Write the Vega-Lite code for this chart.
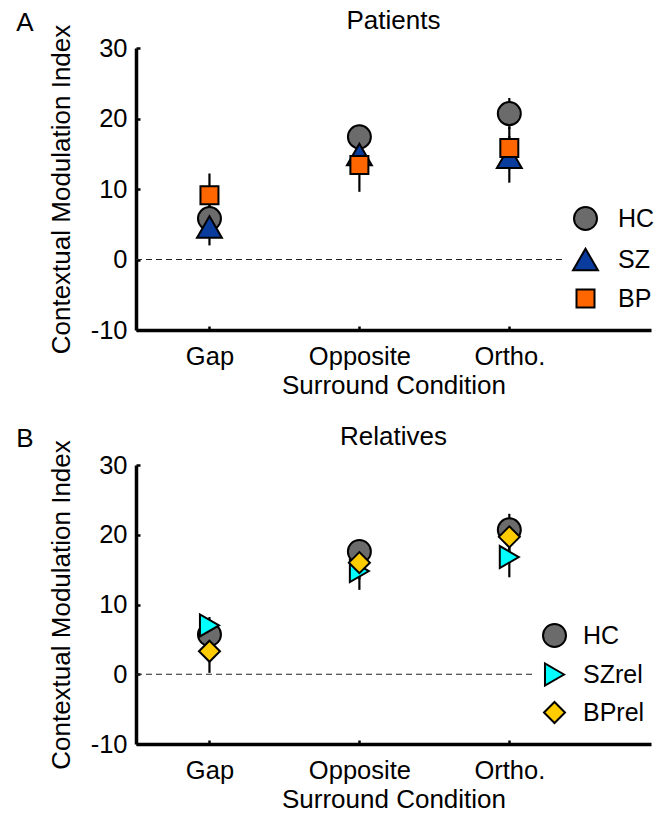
{
  "$schema": "https://vega.github.io/schema/vega-lite/v6.json",
  "padding": {"left": 16, "top": 8, "right": 0, "bottom": 0},
  "background": "white",
  "config": {
    "view": {"stroke": null},
    "font": "Liberation Sans",
    "axis": {"grid": false, "domainColor": "black", "domainWidth": 3.5, "tickColor": "black", "tickWidth": 2.5, "tickSize": -4, "labelFontSize": 25.5, "labelColor": "black", "titleFontSize": 26, "titleColor": "black", "titleFontWeight": "normal", "labelFont": "Liberation Sans", "titleFont": "Liberation Sans"},
    "title": {"fontSize": 26, "fontWeight": "normal", "font": "Liberation Sans", "color": "black"},
    "legend": {"labelFontSize": 25, "labelFont": "Liberation Sans", "labelColor": "black", "symbolStrokeColor": "black", "symbolStrokeWidth": 2, "rowPadding": 10, "labelOffset": 19, "padding": 0, "symbolOpacity": 1}
  },
  "datasets": {
    "patients": [
      {"cond": "Gap", "pos": 1, "group": "HC", "mean": 5.8, "lo": 3.5, "hi": 8.1},
      {"cond": "Gap", "pos": 1, "group": "SZ", "mean": 4.6, "lo": 2.0, "hi": 7.0},
      {"cond": "Gap", "pos": 1, "group": "BP", "mean": 9.1, "lo": 6.0, "hi": 12.2},
      {"cond": "Opposite", "pos": 2, "group": "HC", "mean": 17.4, "lo": 15.7, "hi": 19.1},
      {"cond": "Opposite", "pos": 2, "group": "SZ", "mean": 14.9, "lo": 12.4, "hi": 17.4},
      {"cond": "Opposite", "pos": 2, "group": "BP", "mean": 13.4, "lo": 9.6, "hi": 17.2},
      {"cond": "Ortho.", "pos": 3, "group": "HC", "mean": 20.7, "lo": 18.5, "hi": 22.9},
      {"cond": "Ortho.", "pos": 3, "group": "SZ", "mean": 14.5, "lo": 10.9, "hi": 17.5},
      {"cond": "Ortho.", "pos": 3, "group": "BP", "mean": 15.8, "lo": 12.8, "hi": 18.8}
    ],
    "relatives": [
      {"cond": "Gap", "pos": 1, "group": "HC", "mean": 5.7, "lo": 3.8, "hi": 7.6},
      {"cond": "Gap", "pos": 1, "group": "SZrel", "mean": 7.0, "lo": 5.8, "hi": 8.2},
      {"cond": "Gap", "pos": 1, "group": "BPrel", "mean": 3.3, "lo": 0.2, "hi": 6.4},
      {"cond": "Opposite", "pos": 2, "group": "HC", "mean": 17.6, "lo": 16.2, "hi": 19.0},
      {"cond": "Opposite", "pos": 2, "group": "SZrel", "mean": 14.8, "lo": 12.1, "hi": 17.5},
      {"cond": "Opposite", "pos": 2, "group": "BPrel", "mean": 16.0, "lo": 13.6, "hi": 18.4},
      {"cond": "Ortho.", "pos": 3, "group": "HC", "mean": 20.7, "lo": 18.4, "hi": 23.0},
      {"cond": "Ortho.", "pos": 3, "group": "SZrel", "mean": 16.8, "lo": 13.9, "hi": 19.9},
      {"cond": "Ortho.", "pos": 3, "group": "BPrel", "mean": 19.7, "lo": 17.2, "hi": 22.2}
    ],
    "zeroA": [{"x0": 0.51, "x1": 3.37, "y": 0}],
    "zeroB": [{"x0": 0.51, "x1": 3.17, "y": 0}]
  },
  "spacing": 24,
  "vconcat": [
    {
      "title": {"text": "A", "anchor": "start", "frame": "bounds", "offset": -28, "dx": -32},
      "resolve": {"scale": {"fill": "independent", "shape": "independent", "size": "independent"}},
      "vconcat": [
        {
          "width": 515,
          "height": 282,
          "title": {"text": "Patients", "anchor": "middle", "offset": -10},
          "layer": [
            {
              "data": {"name": "zeroA"},
              "mark": {"type": "rule", "strokeDash": [6, 4], "strokeWidth": 1, "color": "#222222"},
              "encoding": {
                "x": {"field": "x0", "type": "quantitative", "scale": {"domain": [0.51, 3.945], "nice": false, "zero": false}},
                "x2": {"field": "x1"},
                "y": {"field": "y", "type": "quantitative", "scale": {"domain": [-10, 30], "nice": false, "zero": false}}
              }
            },
            {
              "data": {"name": "patients"},
              "mark": {"type": "rule", "strokeWidth": 2.2, "color": "black"},
              "encoding": {
                "x": {"field": "pos", "type": "quantitative", "scale": {"domain": [0.51, 3.945], "nice": false, "zero": false},
                  "axis": {"values": [1, 2, 3], "labelExpr": "datum.value == 1 ? 'Gap' : datum.value == 2 ? 'Opposite' : 'Ortho.'", "labelPadding": 18, "title": "Surround Condition", "titlePadding": 3}},
                "y": {"field": "lo", "type": "quantitative", "scale": {"domain": [-10, 30], "nice": false, "zero": false},
                  "axis": {"values": [-10, 0, 10, 20, 30], "labelExpr": "datum.value < 0 ? '-' + abs(datum.value) : '' + datum.value", "labelPadding": 13, "title": "Contextual Modulation Index", "titlePadding": 16}},
                "y2": {"field": "hi"}
              }
            },
            {
              "data": {"name": "patients"},
              "mark": {"type": "point", "filled": true, "opacity": 1, "stroke": "black", "strokeWidth": 2},
              "encoding": {
                "x": {"field": "pos", "type": "quantitative", "scale": {"domain": [0.51, 3.945], "nice": false, "zero": false}},
                "y": {"field": "mean", "type": "quantitative", "scale": {"domain": [-10, 30], "nice": false, "zero": false}},
                "fill": {"field": "group", "type": "nominal", "scale": {"domain": ["HC", "SZ", "BP"], "range": ["#6b6b6b", "#0a3c9e", "#ff6600"]},
                  "legend": {"title": null, "orient": "none", "legendX": 436, "legendY": 158, "encode": {"symbols": {"update": {"stroke": {"value": "black"}, "strokeWidth": {"value": 2}}}}}},
                "shape": {"field": "group", "type": "nominal", "scale": {"domain": ["HC", "SZ", "BP"], "range": ["circle", "triangle-up", "square"]},
                  "legend": {"title": null, "orient": "none", "legendX": 436, "legendY": 158, "encode": {"symbols": {"update": {"stroke": {"value": "black"}, "strokeWidth": {"value": 2}}}}}},
                "size": {"field": "group", "type": "nominal", "scale": {"type": "ordinal", "domain": ["HC", "SZ", "BP"], "range": [529, 620, 324]},
                  "legend": {"title": null, "orient": "none", "legendX": 436, "legendY": 158, "encode": {"symbols": {"update": {"stroke": {"value": "black"}, "strokeWidth": {"value": 2}}}}}}
              }
            }
          ]
        }
      ]
    },
    {
      "title": {"text": "B", "anchor": "start", "frame": "bounds", "offset": -28, "dx": -32},
      "resolve": {"scale": {"fill": "independent", "shape": "independent", "size": "independent"}},
      "vconcat": [
        {
          "width": 515,
          "height": 279,
          "title": {"text": "Relatives", "anchor": "middle", "offset": -10},
          "layer": [
            {
              "data": {"name": "zeroB"},
              "mark": {"type": "rule", "strokeDash": [6, 4], "strokeWidth": 1, "color": "#222222"},
              "encoding": {
                "x": {"field": "x0", "type": "quantitative", "scale": {"domain": [0.51, 3.945], "nice": false, "zero": false}},
                "x2": {"field": "x1"},
                "y": {"field": "y", "type": "quantitative", "scale": {"domain": [-10, 30], "nice": false, "zero": false}}
              }
            },
            {
              "data": {"name": "relatives"},
              "mark": {"type": "rule", "strokeWidth": 2.2, "color": "black"},
              "encoding": {
                "x": {"field": "pos", "type": "quantitative", "scale": {"domain": [0.51, 3.945], "nice": false, "zero": false},
                  "axis": {"values": [1, 2, 3], "labelExpr": "datum.value == 1 ? 'Gap' : datum.value == 2 ? 'Opposite' : 'Ortho.'", "labelPadding": 18, "title": "Surround Condition", "titlePadding": 3}},
                "y": {"field": "lo", "type": "quantitative", "scale": {"domain": [-10, 30], "nice": false, "zero": false},
                  "axis": {"values": [-10, 0, 10, 20, 30], "labelExpr": "datum.value < 0 ? '-' + abs(datum.value) : '' + datum.value", "labelPadding": 13, "title": "Contextual Modulation Index", "titlePadding": 16}},
                "y2": {"field": "hi"}
              }
            },
            {
              "data": {"name": "relatives"},
              "mark": {"type": "point", "filled": true, "opacity": 1, "stroke": "black", "strokeWidth": 2},
              "encoding": {
                "x": {"field": "pos", "type": "quantitative", "scale": {"domain": [0.51, 3.945], "nice": false, "zero": false}},
                "y": {"field": "mean", "type": "quantitative", "scale": {"domain": [-10, 30], "nice": false, "zero": false}},
                "fill": {"field": "group", "type": "nominal", "scale": {"domain": ["HC", "SZrel", "BPrel"], "range": ["#6b6b6b", "#00ffff", "#ffcc00"]},
                  "legend": {"title": null, "orient": "none", "legendX": 406, "legendY": 158, "labelOffset": 16, "rowPadding": 8, "encode": {"symbols": {"update": {"stroke": {"value": "black"}, "strokeWidth": {"value": 2}}}}}},
                "shape": {"field": "group", "type": "nominal", "scale": {"domain": ["HC", "SZrel", "BPrel"], "range": ["circle", "triangle-right", "diamond"]},
                  "legend": {"title": null, "orient": "none", "legendX": 406, "legendY": 158, "labelOffset": 16, "rowPadding": 8, "encode": {"symbols": {"update": {"stroke": {"value": "black"}, "strokeWidth": {"value": 2}}}}}},
                "size": {"field": "group", "type": "nominal", "scale": {"type": "ordinal", "domain": ["HC", "SZrel", "BPrel"], "range": [529, 484, 441]},
                  "legend": {"title": null, "orient": "none", "legendX": 406, "legendY": 158, "labelOffset": 16, "rowPadding": 8, "encode": {"symbols": {"update": {"stroke": {"value": "black"}, "strokeWidth": {"value": 2}}}}}}
              }
            }
          ]
        }
      ]
    }
  ]
}
